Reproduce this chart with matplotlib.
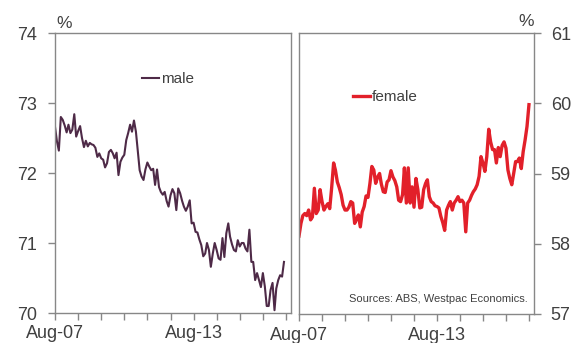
import matplotlib
matplotlib.use("Agg")
import matplotlib.pyplot as plt
import pandas as pd

plt.rcParams['font.family'] = ['Liberation Sans', 'DejaVu Sans']

# monthly participation rates, Aug-07 onwards
male = [72.66, 72.45, 72.32, 72.80, 72.76, 72.68, 72.58, 72.69, 72.57, 72.62,
        72.84, 72.52, 72.60, 72.67, 72.50, 72.37, 72.46, 72.38, 72.43, 72.41,
        72.40, 72.36, 72.23, 72.28, 72.21, 72.19, 72.08, 72.14, 72.30, 72.33,
        72.28, 72.21, 72.29, 71.97, 72.16, 72.22, 72.26, 72.47, 72.57, 72.69,
        72.59, 72.75, 72.59, 72.33, 72.04, 71.95, 71.90, 72.05, 72.15, 72.09,
        72.04, 72.06, 71.83, 72.05, 71.80, 71.73, 71.69, 71.73, 71.60, 71.52,
        71.68, 71.77, 71.71, 71.47, 71.78, 71.71, 71.60, 71.52, 71.46, 71.52,
        71.61, 71.28, 71.29, 71.16, 71.15, 71.05, 70.97, 70.81, 70.85, 71.00,
        70.90, 70.66, 70.85, 71.00, 70.90, 70.78, 70.76, 71.07, 70.80, 71.14,
        71.28, 71.09, 70.98, 70.90, 70.88, 71.04, 70.95, 71.00, 71.00, 70.92,
        70.88, 71.19, 70.73, 70.73, 70.47, 70.57, 70.47, 70.37, 70.57, 70.38,
        70.10, 70.10, 70.33, 70.43, 70.04, 70.35, 70.47, 70.54, 70.52, 70.73]

female = [58.11, 58.29, 58.40, 58.43, 58.40, 58.48, 58.34, 58.38, 58.79, 58.43,
          58.48, 58.77, 58.60, 58.48, 58.53, 58.57, 58.50, 58.80, 59.15, 59.05,
          58.88, 58.80, 58.70, 58.55, 58.48, 58.48, 58.52, 58.60, 58.58, 58.29,
          58.35, 58.41, 58.24, 58.45, 58.53, 58.68, 58.66, 58.86, 59.10, 59.05,
          58.86, 58.95, 59.00, 58.85, 58.74, 58.73, 58.88, 58.91, 59.04, 58.95,
          58.90, 58.81, 58.62, 58.60, 58.70, 59.08, 58.58, 59.08, 58.58, 58.81,
          58.52, 58.93, 58.77, 58.51, 58.52, 58.77, 58.86, 58.91, 58.67, 58.60,
          58.58, 58.54, 58.53, 58.51, 58.39, 58.30, 58.19, 58.48, 58.55, 58.60,
          58.48, 58.58, 58.62, 58.67, 58.60, 58.62, 58.58, 58.17, 58.58, 58.62,
          58.69, 58.74, 58.78, 58.84, 58.96, 59.24, 59.15, 59.03, 59.24, 59.63,
          59.45, 59.34, 59.34, 59.15, 59.37, 59.24, 59.40, 59.45, 59.36, 59.05,
          58.93, 58.84, 59.00, 59.17, 59.17, 59.22, 59.07, 59.31, 59.48, 59.67,
          59.98]

tick_years = list(range(2007, 2018))
label_years = [2007, 2013]

male_dates = pd.date_range("2007-08-01", periods=len(male), freq="MS")
female_dates = pd.date_range("2007-08-01", periods=len(female), freq="MS")
x_start = pd.Timestamp("2007-08-01")
x_end = pd.Timestamp("2017-10-20")

grey = "#878787"
text_c = "#404040"

fig = plt.figure(figsize=(5.74, 3.43), dpi=100)
ax1 = fig.add_axes([55 / 574, 30 / 343, 236 / 574, 280 / 343])
ax2 = fig.add_axes([299 / 574, 29 / 343, 235 / 574, 281 / 343])

ax1.plot(male_dates, male, color="#4e2a47", lw=1.5, label="male")
ax2.plot(female_dates, female, color="#e2202a", lw=2.4, label="female")

ticks = [pd.Timestamp(f"{y}-08-01") for y in tick_years]
labels = [f"Aug-{y % 100:02d}" if y in label_years else "" for y in tick_years]

for ax in (ax1, ax2):
    ax.set_xlim(x_start, x_end)
    ax.set_xticks(ticks)
    ax.set_xticklabels(labels)
    for s in ax.spines.values():
        s.set_color(grey)
        s.set_linewidth(1.0)
    ax.tick_params(axis="both", colors=grey, labelcolor=text_c, labelsize=13,
                   length=5, width=1.0, direction="out")
    ax.tick_params(axis="x", pad=4)

ax1.set_ylim(70, 74)
ax1.set_yticks([70, 71, 72, 73, 74])
ax1.tick_params(axis="y", pad=8)

ax2.set_ylim(57, 61)
ax2.set_yticks([57, 58, 59, 60, 61])
ax2.yaxis.tick_right()
ax2.tick_params(axis="y", pad=7)

fig.text(64 / 574, 1 - 23 / 343, "%", ha="center", va="center",
         fontsize=12.5, color=text_c)
fig.text(526 / 574, 1 - 22 / 343, "%", ha="center", va="center",
         fontsize=12.5, color=text_c)

for ax, anchor in ((ax1, (0.37, 0.836)), (ax2, (0.23, 0.772))):
    ax.legend(loc="center left", bbox_to_anchor=anchor, frameon=False,
              fontsize=11, handlelength=1.1, handletextpad=0.15,
              borderpad=0, borderaxespad=0, labelcolor=text_c)

ax2.text(0.975, 0.055, "Sources: ABS, Westpac Economics.", transform=ax2.transAxes,
         ha="right", va="center", fontsize=8, color=text_c)

fig.savefig("out.png", dpi=100)
